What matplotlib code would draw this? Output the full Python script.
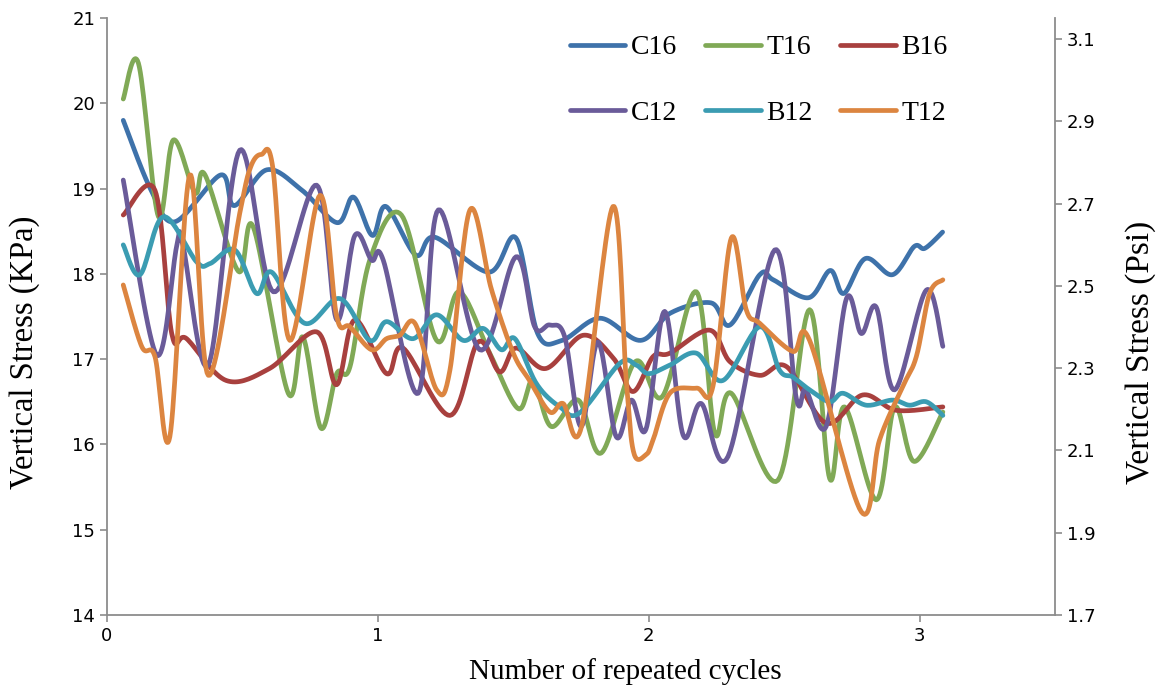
import numpy as np
import matplotlib
matplotlib.use('Agg')
from matplotlib import pyplot as plt

# series (x = number of repeated cycles, y = vertical stress in kPa)
c16_x = [0.06, 0.16, 0.25, 0.42, 0.47, 0.59, 0.72, 0.85, 0.91, 0.98, 1.03, 1.14, 1.21, 1.41, 1.51, 1.59, 1.68, 1.82,
         1.97, 2.08, 2.23, 2.30, 2.41, 2.46, 2.59, 2.67, 2.72, 2.80, 2.90, 2.98, 3.02, 3.085]
c16_y = [19.80, 19.00, 18.61, 19.16, 18.80, 19.22, 18.98, 18.60, 18.90, 18.45, 18.79, 18.22, 18.43, 18.02, 18.42, 17.30,
         17.22, 17.48, 17.22, 17.54, 17.66, 17.40, 17.99, 17.93, 17.72, 18.04, 17.77, 18.18, 17.99, 18.32, 18.30, 18.49]

t16_x = [0.06, 0.116, 0.19, 0.245, 0.325, 0.362, 0.485, 0.54, 0.669, 0.723, 0.79, 0.848, 0.897, 0.97, 1.087, 1.217,
         1.30, 1.413, 1.518, 1.573, 1.64, 1.74, 1.825, 1.95, 2.05, 2.176, 2.244, 2.305, 2.477, 2.594, 2.668, 2.723,
         2.84, 2.908, 2.98, 3.086]
t16_y = [20.05, 20.47, 18.67, 19.57, 18.95, 19.16, 18.03, 18.55, 16.60, 17.26, 16.19, 16.83, 16.91, 18.16, 18.69, 17.22,
         17.79, 17.07, 16.42, 16.75, 16.21, 16.52, 15.90, 16.97, 16.56, 17.79, 16.13, 16.60, 15.58, 17.58, 15.60, 16.44,
         15.35, 16.44, 15.80, 16.38]

b16_x = [0.06, 0.177, 0.239, 0.294, 0.44, 0.60, 0.774, 0.848, 0.915, 1.032, 1.093, 1.266, 1.37, 1.45, 1.51, 1.62,
         1.758, 1.87, 1.942, 2.016, 2.078, 2.225, 2.30, 2.41, 2.51, 2.655, 2.79, 2.914, 3.086]
b16_y = [18.69, 18.98, 17.30, 17.24, 16.75, 16.89, 17.32, 16.70, 17.46, 16.83, 17.13, 16.34, 17.20, 16.85, 17.13, 16.89,
         17.28, 17.01, 16.62, 17.03, 17.07, 17.34, 16.97, 16.81, 16.91, 16.25, 16.58, 16.40, 16.44]

c12_x = [0.06, 0.183, 0.257, 0.28, 0.374, 0.49, 0.614, 0.774, 0.848, 0.915, 0.977, 1.02, 1.149, 1.223, 1.376, 1.51,
         1.579, 1.635, 1.69, 1.75, 1.813, 1.88, 1.936, 1.99, 2.059, 2.127, 2.194, 2.293, 2.465, 2.545, 2.58, 2.655,
         2.73, 2.785, 2.84, 2.908, 3.025, 3.086]
c12_y = [19.10, 17.05, 18.32, 18.34, 16.93, 19.45, 17.79, 19.04, 17.46, 18.45, 18.16, 18.16, 16.60, 18.75, 17.11, 18.20,
         17.38, 17.40, 17.26, 16.21, 17.20, 16.09, 16.52, 16.18, 17.56, 16.11, 16.48, 15.86, 18.28, 16.54, 16.64, 16.21,
         17.71, 17.30, 17.61, 16.64, 17.81, 17.15]

b12_x = [0.06, 0.122, 0.208, 0.331, 0.38, 0.472, 0.552, 0.608, 0.73, 0.86, 0.97, 1.032, 1.13, 1.217, 1.315, 1.389,
         1.456, 1.506, 1.586, 1.672, 1.745, 1.893, 1.954, 2.00, 2.078, 2.176, 2.274, 2.41, 2.483, 2.532, 2.594, 2.668,
         2.717, 2.803, 2.90, 2.963, 3.025, 3.086]
b12_y = [18.34, 17.99, 18.67, 18.14, 18.12, 18.28, 17.77, 18.02, 17.42, 17.71, 17.22, 17.44, 17.24, 17.52, 17.22, 17.36,
         17.11, 17.24, 16.71, 16.44, 16.37, 16.95, 16.93, 16.83, 16.93, 17.07, 16.75, 17.38, 16.87, 16.79, 16.64, 16.50,
         16.60, 16.46, 16.52, 16.46, 16.50, 16.34]

t12_x = [0.06, 0.128, 0.177, 0.232, 0.306, 0.374, 0.49, 0.53, 0.57, 0.612, 0.675, 0.786, 0.848, 0.897, 0.977, 1.032,
         1.081, 1.137, 1.217, 1.266, 1.34, 1.42, 1.50, 1.56, 1.635, 1.684, 1.752, 1.868, 1.917, 1.945, 1.99, 2.016,
         2.078, 2.176, 2.237, 2.305, 2.36, 2.41, 2.532, 2.594, 2.785, 2.852, 2.938, 2.988, 3.037, 3.086]
t12_y = [17.87, 17.15, 17.03, 16.09, 19.16, 16.81, 18.71, 19.25, 19.40, 19.25, 17.22, 18.92, 17.50, 17.38, 17.11, 17.24,
         17.28, 17.42, 16.64, 16.87, 18.75, 17.81, 17.07, 16.75, 16.38, 16.48, 16.21, 18.79, 16.75, 15.90, 15.88, 16.05,
         16.60, 16.66, 16.68, 18.42, 17.58, 17.42, 17.09, 17.22, 15.21, 16.05, 16.68, 17.03, 17.77, 17.93]

names = ['C16', 'T16', 'B16', 'C12', 'B12', 'T12']
colors = ['#3E72AA', '#80A956', '#A8403E', '#6A5B99', '#3B9CB2', '#DC8540']
series = [(c16_x, c16_y), (t16_x, t16_y), (b16_x, b16_y), (c12_x, c12_y), (b12_x, b12_y), (t12_x, t12_y)]

x_ticks = [0, 1, 2, 3]
kpa_ticks = [14, 15, 16, 17, 18, 19, 20, 21]
psi_ticks = [1.7, 1.9, 2.1, 2.3, 2.5, 2.7, 2.9, 3.1]


def smooth(xs, ys, n=20):
    # excel style smoothed line: cubic bezier between points, catmull-rom control points
    p = np.column_stack([xs, ys]).astype(float)
    p = np.vstack([p[0], p, p[-1]])
    t = np.linspace(0, 1, n)[:, None]
    out = []
    for i in range(1, len(p) - 2):
        p0, p3 = p[i], p[i + 1]
        p1 = p0 + (p[i + 1] - p[i - 1]) / 6
        p2 = p3 - (p[i + 2] - p[i]) / 6
        seg = (1 - t) ** 3 * p0 + 3 * (1 - t) ** 2 * t * p1 + 3 * (1 - t) * t ** 2 * p2 + t ** 3 * p3
        out.append(seg)
    out = np.vstack(out)
    return out[:, 0], out[:, 1]


W, H = 1167, 696
fig = plt.figure(figsize=(W / 100, H / 100), dpi=100)
ax = fig.add_axes([107 / W, 1 - 615 / H, (1055 - 107) / W, (615 - 18) / H])
ax2 = ax.twinx()

lines = {}
for name, col, (xs, ys) in zip(names, colors, series):
    sx, sy = smooth(xs, ys)
    lines[name], = ax.plot(sx, sy, color=col, lw=3.4, solid_capstyle='round', label=name)

ax.set_xlim(0, 3.5)
ax.set_ylim(14, 21)
ax.set_xticks(x_ticks)
ax.set_yticks(kpa_ticks)
ax2.set_ylim(1.7, 1.7 + 1.4 * 597 / 576)
ax2.set_yticks(psi_ticks)
ax2.set_yticklabels(['%.1f' % v for v in psi_ticks])

grey = '#8C8C8C'
for a in (ax, ax2):
    a.spines['top'].set_visible(False)
    for s in ('left', 'right', 'bottom'):
        a.spines[s].set_color(grey)
        a.spines[s].set_linewidth(1.3)
    a.tick_params(colors=grey, labelcolor='black', labelsize=13, length=5, width=1.2)
ax.spines['right'].set_visible(False)
ax2.spines['left'].set_visible(False)
ax2.spines['bottom'].set_visible(False)

# axis titles placed by pixel centre
fig.text(625 / W, 1 - 672 / H, 'Number of repeated cycles', family='Liberation Serif', size=21,
         ha='center', va='center')
fig.text(25 / W, 1 - 352 / H, 'Vertical Stress (KPa)', family='Liberation Serif', size=23.5,
         rotation=90, ha='center', va='center')
fig.text(1141 / W, 1 - 352 / H, 'Vertical Stress (Psi)', family='Liberation Serif', size=24,
         rotation=90, ha='center', va='center')

order = ['C16', 'C12', 'T16', 'B12', 'B16', 'T12']
ax.legend([lines[k] for k in order], order, ncol=3, frameon=False,
          prop={'family': 'Liberation Serif', 'size': 20},
          loc='upper left', bbox_to_anchor=(556 / W, 1 - 21 / H), bbox_transform=fig.transFigure,
          borderpad=0, handlelength=2.0, handletextpad=0.2, columnspacing=1.0, labelspacing=1.45)

plt.savefig('out.png', dpi=100)
